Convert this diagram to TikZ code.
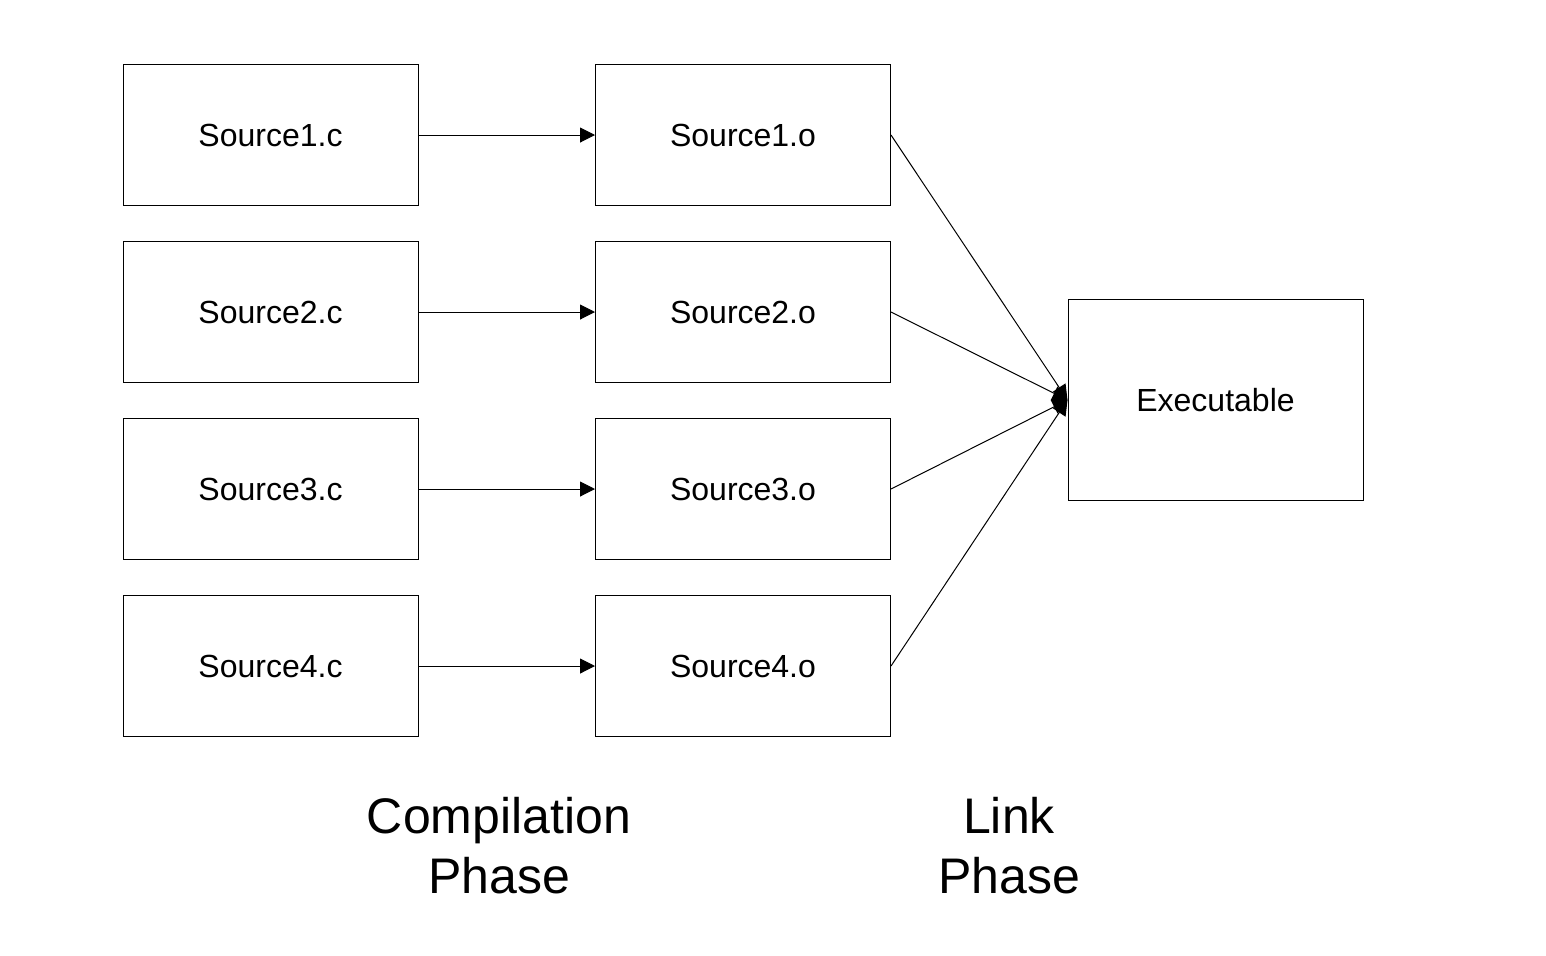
\documentclass[tikz,border=0pt]{standalone}
\usepackage{fontspec}
\setmainfont{Liberation Sans}
\usetikzlibrary{arrows.meta}
\begin{document}
\begin{tikzpicture}[x=0.5pt,y=-0.5pt,
  box/.style={draw,line width=0.5pt,minimum width=147.5pt,minimum height=70.5pt,inner sep=0pt,font=\fontsize{16}{19}\selectfont},
  conn/.style={line width=0.5pt,-{Triangle[length=7.5pt,width=7.5pt]}},
  phase/.style={align=center,font=\fontsize{25}{30}\selectfont}]
\useasboundingbox (0,0) rectangle (1546,955);
\node[box] (c1) at (270.5,135) {Source1.c};
\node[box] (c2) at (270.5,312) {Source2.c};
\node[box] (c3) at (270.5,489) {Source3.c};
\node[box] (c4) at (270.5,666) {Source4.c};
\node[box] (o1) at (743,135) {Source1.o};
\node[box] (o2) at (743,312) {Source2.o};
\node[box] (o3) at (743,489) {Source3.o};
\node[box] (o4) at (743,666) {Source4.o};
\node[box,minimum height=100.5pt] (ex) at (1215.5,400) {Executable};
\foreach \i in {1,2,3,4} {
  \draw[conn] (c\i.east) -- (o\i.west);
  \draw[conn] (o\i.east) -- (ex.west);
}
\node[phase] (cp) at (499,846) {Compilation\\Phase};
\node[phase] (lp) at (1009,846) {Link\\Phase};
\end{tikzpicture}
\end{document}
